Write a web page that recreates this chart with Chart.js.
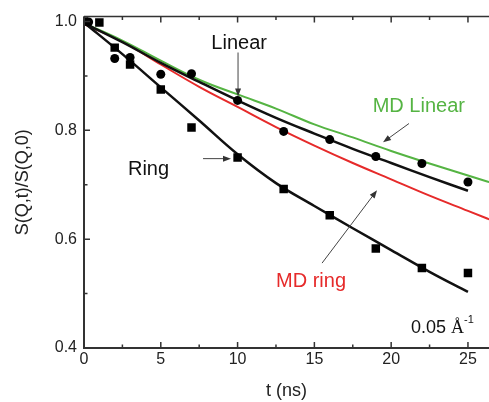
<!DOCTYPE html>
<html lang="en">
<head>
<meta charset="UTF-8">
<title>S(Q,t)/S(Q,0) vs t</title>
<script src="https://cdn.jsdelivr.net/npm/chart.js"></script>
<style>
  html, body { margin: 0; padding: 0; background: #fff; }
</style>
</head>
<body>
<canvas id="chart" width="489" height="402"></canvas>
<script>
// measured points (Linear = circles, Ring = squares)
const linearT = [0.3, 2, 3, 5, 7, 10, 13, 16, 19, 22, 25];
const linearS = [0.999, 0.932, 0.934, 0.903, 0.904, 0.855, 0.798, 0.783, 0.752, 0.739, 0.705];
const ringT = [0, 1, 2, 3, 5, 7, 10, 13, 16, 19, 22, 25];
const ringS = [1.0, 0.998, 0.952, 0.921, 0.875, 0.805, 0.750, 0.692, 0.644, 0.583, 0.547, 0.538];

// fitted curves (black)
const fitT = [0, 2.5, 5, 7.5, 10, 12.5, 15, 17.5, 20, 22.5, 25];
const linearFit = [0.997, 0.962, 0.924, 0.889, 0.855, 0.823, 0.794, 0.766, 0.740, 0.714, 0.689];
const ringFit = [0.998, 0.940, 0.879, 0.818, 0.756, 0.703, 0.661, 0.620, 0.580, 0.540, 0.503];

// MD curves
const mdT = [0, 2.5, 5, 7.5, 10, 12.5, 15, 17.5, 20, 22.5, 25, 27.5];
const mdLinear = [0.997, 0.965, 0.928, 0.893, 0.866, 0.840, 0.811, 0.787, 0.762, 0.739, 0.717, 0.695];
const mdRing = [0.995, 0.963, 0.921, 0.880, 0.843, 0.806, 0.772, 0.740, 0.710, 0.680, 0.652, 0.624];

const xTicks = [0, 5, 10, 15, 20, 25];
const xMinor = [2.5, 7.5, 12.5, 17.5, 22.5];
const yTicks = [0.4, 0.6, 0.8, 1.0];
const yMinor = [0.5, 0.7, 0.9];

const FONT = "'Liberation Sans', Arial, sans-serif";
const GREEN = '#55b443';
const RED = '#e62a2a';

const pts = (xs, ys) => xs.map((x, i) => ({ x: x, y: ys[i] }));

function arrow(ctx, x1, y1, x2, y2) {
    const ang = Math.atan2(y2 - y1, x2 - x1);
    ctx.beginPath();
    ctx.moveTo(x1, y1);
    ctx.lineTo(x2 - 6 * Math.cos(ang), y2 - 6 * Math.sin(ang));
    ctx.stroke();
    ctx.beginPath();
    ctx.moveTo(x2, y2);
    ctx.lineTo(x2 - 8 * Math.cos(ang) + 3 * Math.sin(ang), y2 - 8 * Math.sin(ang) - 3 * Math.cos(ang));
    ctx.lineTo(x2 - 8 * Math.cos(ang) - 3 * Math.sin(ang), y2 - 8 * Math.sin(ang) + 3 * Math.cos(ang));
    ctx.closePath();
    ctx.fill();
}

const frame = {
    id: 'frame',
    afterDraw(chart) {
        const { ctx, chartArea: a, scales: { x, y } } = chart;
        ctx.save();
        ctx.strokeStyle = '#333';
        ctx.lineWidth = 2;
        ctx.beginPath();
        ctx.moveTo(a.left, a.top);
        ctx.lineTo(a.left, a.bottom);
        ctx.lineTo(a.right, a.bottom);
        ctx.stroke();
        ctx.lineWidth = 1.5;
        ctx.beginPath();
        ctx.moveTo(a.left, a.top);
        ctx.lineTo(a.right, a.top);
        ctx.stroke();

        // inward ticks
        ctx.beginPath();
        xTicks.concat(xMinor).forEach(v => {
            const len = xTicks.includes(v) ? 6 : 3.5;
            const px = x.getPixelForValue(v);
            ctx.moveTo(px, a.bottom); ctx.lineTo(px, a.bottom - len);
            ctx.moveTo(px, a.top); ctx.lineTo(px, a.top + len);
        });
        yTicks.concat(yMinor).forEach(v => {
            const len = yTicks.includes(v) ? 6 : 3.5;
            const py = y.getPixelForValue(v);
            ctx.moveTo(a.left, py); ctx.lineTo(a.left + len, py);
        });
        ctx.stroke();

        // labels
        const X = v => x.getPixelForValue(v);
        const Y = v => y.getPixelForValue(v);
        ctx.textBaseline = 'alphabetic';
        ctx.textAlign = 'center';
        ctx.font = '20px ' + FONT;
        ctx.fillStyle = '#111';
        ctx.fillText('Linear', X(10.1), Y(0.950));
        ctx.fillText('Ring', X(4.2), Y(0.717));
        ctx.fillStyle = GREEN;
        ctx.fillText('MD Linear', X(21.8), Y(0.833));
        ctx.fillStyle = RED;
        ctx.fillText('MD ring', X(14.78), Y(0.512));

        ctx.textAlign = 'left';
        ctx.fillStyle = '#111';
        ctx.font = '18px ' + FONT;
        const qx = X(21.29), qy = Y(0.427);
        ctx.fillText('0.05 ', qx, qy);
        const w = ctx.measureText('0.05 ').width;
        ctx.font = '18px "Liberation Serif", serif';
        ctx.fillText('\u00c5', qx + w, qy);
        const w2 = ctx.measureText('\u00c5').width;
        ctx.font = '11px ' + FONT;
        ctx.fillText('-1', qx + w + w2, qy - 10);

        // arrows
        ctx.strokeStyle = '#444';
        ctx.fillStyle = '#333';
        ctx.lineWidth = 1;
        arrow(ctx, X(10.03), Y(0.943), X(10.03), Y(0.862));
        arrow(ctx, X(21.16), Y(0.8125), X(19.47), Y(0.778));
        arrow(ctx, X(7.75), Y(0.748), X(9.57), Y(0.748));
        arrow(ctx, X(15.5), Y(0.556), X(19.08), Y(0.690));
        ctx.restore();
    }
};

const curve = (xs, ys, color, width) => ({
    data: pts(xs, ys), showLine: true, pointRadius: 0, borderColor: color,
    borderWidth: width, tension: 0.4
});

new Chart(document.getElementById('chart'), {
    type: 'scatter',
    data: {
        datasets: [
            { data: pts(linearT, linearS), showLine: false, pointStyle: 'circle', pointRadius: 4.5,
              backgroundColor: '#000', borderColor: '#000', borderWidth: 0 },
            { data: pts(ringT, ringS), showLine: false, pointStyle: 'rect', pointRadius: 6,
              backgroundColor: '#000', borderColor: '#000', borderWidth: 0 },
            curve(fitT, linearFit, '#111', 2.5),
            curve(fitT, ringFit, '#111', 2.5),
            curve(mdT, mdLinear, GREEN, 2),
            curve(mdT, mdRing, RED, 2)
        ]
    },
    options: {
        responsive: false,
        animation: false,
        layout: { autoPadding: false, padding: { top: 16, right: 0, left: 0, bottom: 0 } },
        plugins: { legend: { display: false }, tooltip: { enabled: false } },
        scales: {
            x: {
                type: 'linear', min: 0, max: 26.37,
                grid: { display: false, drawTicks: false },
                border: { display: false },
                afterBuildTicks: s => { s.ticks = xTicks.map(v => ({ value: v })); },
                afterFit: s => { s.height = 54; s.paddingLeft = 0; s.paddingRight = 0; },
                ticks: { font: { family: FONT, size: 16 }, color: '#222', padding: 2,
                         maxRotation: 0, autoSkip: false, callback: v => String(v) },
                title: { display: true, text: 't (ns)', color: '#222',
                         font: { family: FONT, size: 18 }, padding: { top: 0, bottom: 0 } }
            },
            y: {
                type: 'linear', min: 0.4, max: 1.009,
                grid: { display: false, drawTicks: false },
                border: { display: false },
                afterBuildTicks: s => { s.ticks = yTicks.map(v => ({ value: v })); },
                afterFit: s => { s.width = 84; },
                ticks: { font: { family: FONT, size: 16 }, color: '#222', padding: 7,
                         autoSkip: false, callback: v => v.toFixed(1) },
                title: { display: true, text: 'S(Q,t)/S(Q,0)', color: '#222',
                         font: { family: FONT, size: 18 }, padding: { top: 12, bottom: 0 } }
            }
        }
    },
    plugins: [frame]
});
</script>
</body>
</html>
